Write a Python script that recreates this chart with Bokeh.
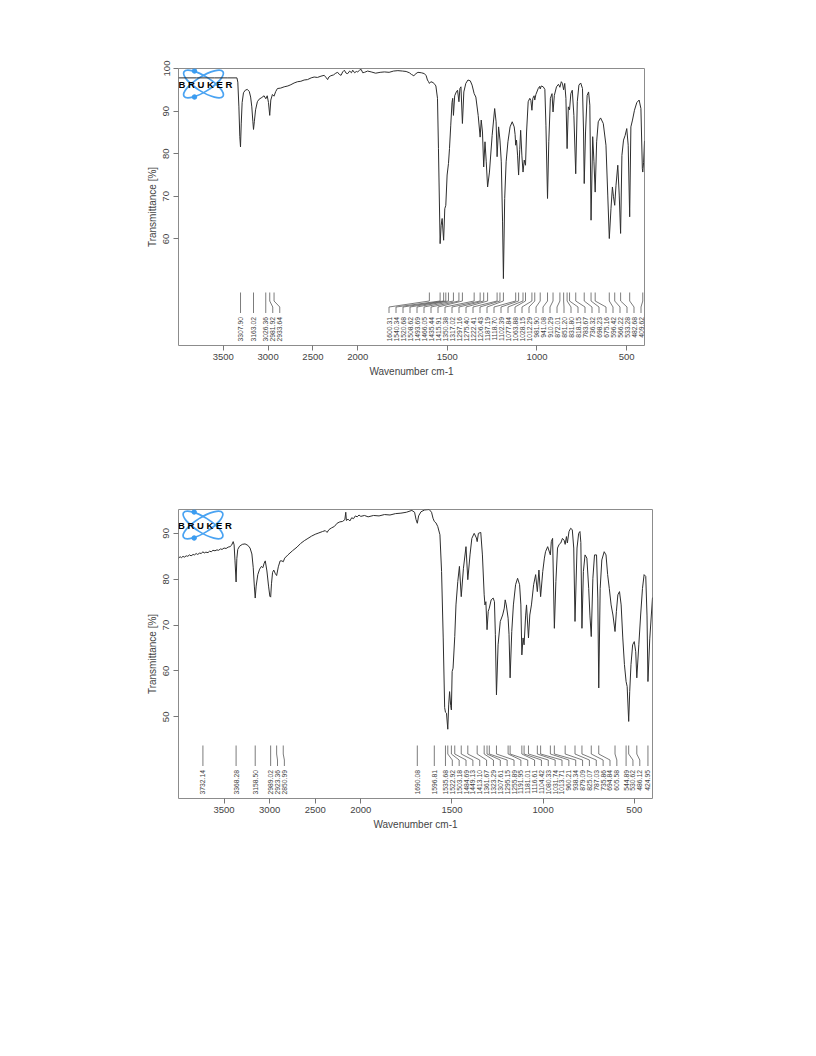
import math
from bokeh.plotting import figure
from bokeh.models import Range1d, FixedTicker
from bokeh.layouts import column
from bokeh.embed import file_html
from bokeh.resources import INLINE
from bokeh.core.properties import value

# ---------------- data ----------------
x_ticks = [3500, 3000, 2500, 2000, 1500, 1000, 500]

spectrum1 = [
    (4000, 97.8), (3800, 97.8), (3600, 97.8), (3450, 97.8), (3348, 97.8), (3338, 96.8), (3326, 91.0),
    (3316, 84.0), (3308, 81.6), (3300, 87.0), (3290, 92.0), (3275, 94.3), (3255, 94.9), (3232, 95.1),
    (3210, 94.6), (3195, 93.3), (3182, 91.0), (3170, 87.5), (3163, 85.7), (3154, 87.5), (3140, 90.3),
    (3120, 92.2), (3100, 92.8), (3070, 93.2), (3045, 93.6), (3026, 92.9), (3010, 93.6), (2996, 92.0),
    (2982, 89.0), (2970, 92.6), (2952, 93.9), (2934, 93.5), (2915, 94.6), (2896, 95.3), (2860, 95.4),
    (2821, 95.7), (2780, 95.9), (2746, 96.2), (2710, 96.6), (2672, 96.9), (2635, 97.0), (2598, 97.3),
    (2560, 97.4), (2520, 97.8), (2486, 98.0), (2450, 97.9), (2410, 98.2), (2374, 98.4), (2350, 97.8),
    (2336, 97.4), (2322, 98.0), (2300, 98.3), (2270, 98.5), (2245, 98.9), (2224, 99.1), (2205, 98.6),
    (2186, 98.4), (2168, 99.2), (2149, 99.6), (2130, 98.9), (2112, 98.8), (2090, 99.4), (2070, 99.0),
    (2056, 99.6), (2035, 99.0), (2015, 99.3), (2000, 99.2), (1990, 99.6), (1981, 99.8), (1972, 99.0),
    (1962, 99.1), (1945, 99.4), (1925, 99.2), (1900, 98.9), (1875, 99.1), (1851, 99.2), (1825, 99.1),
    (1800, 99.4), (1776, 99.5), (1750, 99.4), (1730, 99.3), (1712, 99.0), (1700, 98.6), (1687, 98.3),
    (1675, 98.8), (1664, 99.1), (1645, 99.0), (1628, 98.8), (1618, 98.3), (1611, 97.3), (1605, 96.9),
    (1600, 96.5), (1592, 96.9), (1580, 96.7), (1570, 96.3), (1564, 95.9), (1555, 93.0), (1549.6, 81.2),
    (1540.3, 58.9), (1534.7, 63.2), (1529, 64.8), (1520.7, 59.7), (1514.3, 67.1), (1508.6, 67.9),
    (1501.3, 75.0), (1493.7, 77.7), (1488, 81.2), (1481, 86.7), (1474, 92.0), (1470, 93.0), (1466, 89.0),
    (1459, 93.6), (1450, 94.5), (1443, 94.9), (1435.4, 92.2), (1430, 95.3), (1424, 95.7), (1415.9, 87.1),
    (1408, 94.5), (1397, 96.5), (1385, 97.3), (1372, 97.1), (1362, 96.1), (1350.4, 94.1), (1341, 93.3),
    (1328, 89.0), (1317, 83.9), (1311, 87.9), (1304, 85.1), (1297.2, 76.9), (1290, 82.8), (1283, 78.1),
    (1275.4, 72.2), (1265, 75.7), (1250, 84.3), (1236, 90.6), (1228, 87.5), (1222.4, 79.3), (1214, 86.3),
    (1206.4, 83.2), (1199, 78.1), (1192, 64.0), (1187.2, 50.7), (1180, 69.5), (1172, 78.1), (1162, 82.8),
    (1150, 86.3), (1138, 87.5), (1127, 86.3), (1122, 84.5), (1118.7, 82.0), (1114, 83.2), (1108, 79.5),
    (1102.4, 75.0), (1096, 81.0), (1091, 85.5), (1084, 79.5), (1077.8, 75.7), (1071, 78.5), (1063.9, 77.3),
    (1058, 85.1), (1049, 92.2), (1040, 93.0), (1034, 92.5), (1028.2, 90.2), (1023, 93.0), (1016, 93.6),
    (1012.3, 92.6), (1006, 93.9), (993, 95.3), (985, 95.8), (981.9, 95.2), (976, 95.9), (965, 95.7),
    (956, 95.1), (950, 86.7), (941.1, 69.5), (934, 82.8), (925, 93.0), (916, 94.1), (910.3, 89.8),
    (903, 93.7), (891, 95.7), (880, 96.3), (872, 95.6), (864, 96.9), (858, 96.5), (851.2, 95.0),
    (845, 96.5), (838.5, 93.0), (831.8, 81.2), (825, 91.0), (818.2, 90.3), (811, 94.1), (803, 94.9),
    (794, 89.0), (783.7, 75.3), (775, 92.2), (766, 96.1), (756, 96.6), (746, 95.3), (740, 85.1),
    (736.3, 73.0), (729, 85.1), (720, 93.7), (712, 94.5), (705, 91.4), (698.2, 64.4), (689, 84.0),
    (682, 78.1), (675.2, 71.0), (667, 82.8), (658, 87.5), (645, 88.4), (630, 87.1), (615, 82.0),
    (605, 70.3), (596.4, 60.1), (587, 67.1), (579, 72.2), (573, 69.9), (566.2, 67.9), (559, 72.6),
    (549, 77.3), (541, 70.3), (533.3, 61.3), (526, 79.6), (517, 83.2), (508, 84.3), (499, 85.9),
    (491, 82.0), (482.7, 65.2), (476, 86.3), (467, 87.9), (456, 90.2), (443, 92.0), (430, 92.6),
    (420, 90.6), (412, 76.5), (409.6, 75.7), (405, 78.0), (400, 83.0),
]

peaks1 = ["3307.90", "3163.02", "3026.36", "2981.92", "2933.64", "1600.31", "1540.34", "1520.68",
          "1508.62", "1493.69", "1466.05", "1435.44", "1415.91", "1350.38", "1317.02", "1297.16",
          "1275.40", "1222.41", "1206.43", "1187.19", "1118.70", "1102.39", "1077.84", "1063.88",
          "1028.15", "1012.29", "981.90", "941.08", "910.29", "872.01", "851.20", "831.80", "818.15",
          "783.67", "736.32", "698.23", "675.16", "596.42", "566.22", "533.28", "482.68", "409.62"]

spectrum2 = [
    (4000, 84.6), (3982, 84.9), (3968, 84.7), (3950, 85.0), (3937, 84.8), (3915, 85.1), (3898, 85.0),
    (3880, 85.3), (3862, 85.1), (3840, 85.4), (3825, 85.3), (3806, 85.6), (3790, 85.4), (3768, 85.7),
    (3750, 85.6), (3732, 86.0), (3718, 85.7), (3700, 85.9), (3676, 85.8), (3660, 86.1), (3640, 86.0),
    (3622, 86.3), (3600, 86.2), (3578, 86.4), (3560, 86.3), (3540, 86.6), (3522, 86.5), (3500, 86.8),
    (3478, 86.7), (3455, 87.0), (3435, 87.1), (3418, 87.4), (3400, 88.2), (3390, 87.5), (3380, 84.0),
    (3368, 79.4), (3360, 84.5), (3350, 86.5), (3330, 87.2), (3300, 87.6), (3270, 87.7), (3240, 87.4),
    (3215, 86.8), (3195, 85.5), (3180, 82.5), (3168, 78.5), (3158.5, 75.9), (3148, 78.5), (3130, 81.0),
    (3110, 82.2), (3090, 82.8), (3075, 82.5), (3060, 83.5), (3048, 84.0), (3030, 81.8), (3012, 78.5),
    (2998, 76.3), (2989, 76.1), (2980, 79.0), (2968, 81.5), (2955, 82.0), (2940, 81.3), (2923.4, 80.8),
    (2905, 82.7), (2885, 84.0), (2865, 84.0), (2851, 83.8), (2835, 84.6), (2800, 85.3), (2750, 86.2),
    (2700, 87.0), (2660, 87.8), (2620, 88.4), (2580, 88.9), (2540, 89.4), (2500, 89.8), (2460, 90.1),
    (2420, 90.4), (2390, 90.6), (2370, 90.2), (2350, 90.8), (2320, 91.2), (2290, 91.5), (2260, 92.2),
    (2230, 92.5), (2200, 92.6), (2175, 93.0), (2165, 94.6), (2158, 92.8), (2140, 93.1), (2120, 92.7),
    (2100, 93.4), (2080, 93.2), (2060, 93.8), (2040, 93.6), (2020, 94.0), (2000, 93.7), (1980, 93.9),
    (1960, 93.6), (1930, 93.9), (1900, 93.8), (1870, 94.1), (1840, 94.0), (1810, 94.3), (1780, 94.4),
    (1750, 94.6), (1720, 95.0), (1705, 94.6), (1697, 93.0), (1690, 92.2), (1683, 93.8), (1670, 94.7),
    (1650, 95.1), (1625, 95.2), (1612, 94.6), (1604, 93.3), (1596.8, 92.6), (1588, 92.3), (1578, 91.5),
    (1566, 89.7), (1557, 81.7), (1548, 67.2), (1540, 52.0), (1535.7, 51.0), (1530, 50.8), (1522.9, 47.3),
    (1518, 52.6), (1513, 55.5), (1507, 52.5), (1503.2, 51.5), (1499, 59.9), (1494, 60.6), (1484.7, 67.5),
    (1478, 74.4), (1468, 79.5), (1459, 82.8), (1449.1, 76.2), (1437, 82.4), (1423, 87.1), (1413.1, 79.9),
    (1401, 85.3), (1391, 88.9), (1378, 90.0), (1366, 89.0), (1361.7, 88.2), (1355, 90.0), (1342, 90.2),
    (1333, 85.3), (1323.3, 76.6), (1319, 74.4), (1314, 75.1), (1307.6, 69.0), (1301, 73.0), (1295.2, 73.7),
    (1285, 75.5), (1274, 75.9), (1267, 75.1), (1262, 68.0), (1255.9, 54.8), (1247, 65.7), (1235, 70.8),
    (1222, 72.2), (1213, 73.7), (1208, 75.5), (1202, 74.4), (1192, 71.5), (1187, 68.0), (1181, 58.5),
    (1172, 68.6), (1163, 74.4), (1151, 78.8), (1140, 80.2), (1129, 78.8), (1122, 74.4), (1116.6, 63.5),
    (1110, 67.2), (1104.4, 65.7), (1096, 72.0), (1091, 74.4), (1080.3, 67.2), (1073, 72.2), (1064, 74.4),
    (1052, 78.8), (1041, 81.0), (1031.7, 77.3), (1023, 82.0), (1013.7, 76.2), (1002, 81.7), (993, 84.6),
    (986.7, 86.0), (975, 87.1), (960.2, 85.3), (955, 88.2), (948, 88.9), (938.3, 69.3), (930, 79.5),
    (921, 86.8), (912, 87.6), (903, 87.9), (894, 88.9), (885, 88.5), (879.1, 87.6), (872, 89.3),
    (867, 87.9), (858, 90.4), (849, 91.1), (840, 90.8), (832, 86.8), (825.1, 70.8), (814, 86.8),
    (805, 90.0), (798, 90.4), (793, 88.0), (787, 69.3), (779, 81.7), (770, 85.3), (760, 84.6),
    (750, 78.0), (743, 72.0), (735.9, 67.5), (727, 80.2), (718, 85.3), (707, 85.3), (700, 75.9),
    (694.8, 56.3), (687, 78.0), (678, 84.2), (665, 86.0), (655, 85.3), (646, 81.0), (637, 78.0),
    (627, 74.4), (617, 72.2), (605.6, 68.6), (598, 73.0), (590, 76.6), (581, 77.3), (572, 74.4),
    (563, 67.2), (554, 61.4), (544.9, 57.7), (539, 56.6), (530.6, 49.0), (525, 55.5), (518, 61.4),
    (509, 65.7), (500, 66.4), (492, 64.2), (486.1, 58.5), (475, 65.7), (465, 72.2), (455, 78.0),
    (446, 81.0), (437, 80.6), (430, 72.0), (424.95, 57.7), (415, 67.0), (400, 76.0),
]

peaks2 = ["3732.14", "3368.28", "3158.50", "2989.02", "2923.36", "2850.99", "1690.08", "1596.81",
          "1535.68", "1522.92", "1503.18", "1484.69", "1449.13", "1413.10", "1361.67", "1323.29",
          "1307.61", "1295.15", "1255.89", "1191.95", "1181.01", "1116.61", "1104.42", "1080.33",
          "1031.74", "1013.71", "960.21", "938.34", "879.09", "825.07", "787.03", "735.86", "694.84",
          "605.58", "544.89", "530.62", "486.12", "424.95"]

y_ticks1 = [60, 70, 80, 90, 100]
y_ticks2 = [50, 60, 70, 80, 90]

FONT = "Liberation Sans"


def to_u(x):
    # OPUS style axis: region above 2000 cm-1 compressed by a factor 2
    return x if x <= 2000 else 2000 + (x - 2000) / 2.0


def make_chart(points, peaks, ybot, ytop, yticks, fl, fw, ft, fh, br, bb):
    p = figure(width=fl + fw + br, height=ft + fh + bb,
               x_range=Range1d(3000, 400), y_range=Range1d(ybot, ytop),
               output_backend="svg", toolbar_location=None,
               min_border_left=fl, min_border_right=br,
               min_border_top=ft, min_border_bottom=bb)
    p.background_fill_color = "white"
    p.border_fill_color = "white"
    p.outline_line_color = "#8c8c8c"
    p.outline_line_width = 1
    p.grid.visible = False

    tick_u = [int(to_u(v)) for v in x_ticks]
    p.xaxis.ticker = FixedTicker(ticks=tick_u)
    p.xaxis.major_label_overrides = {int(to_u(v)): str(v) for v in x_ticks}
    p.yaxis.ticker = FixedTicker(ticks=yticks)
    for ax in (p.xaxis, p.yaxis):
        ax.axis_line_color = None
        ax.major_tick_line_color = "#777777"
        ax.major_tick_out = 5
        ax.major_tick_in = 0
        ax.minor_tick_line_color = None
        ax.major_label_text_font = FONT
        ax.major_label_text_font_size = "9.5px"
        ax.major_label_text_color = "#444444"
        ax.axis_label_text_font = FONT
        ax.axis_label_text_font_size = "10px"
        ax.axis_label_text_font_style = "normal"
        ax.axis_label_text_color = "#444444"
    p.xaxis.axis_label = "Wavenumber cm-1"
    p.yaxis.axis_label = "Transmittance [%]"
    p.xaxis.major_label_standoff = 3
    p.xaxis.axis_label_standoff = 3
    p.yaxis.major_label_orientation = "vertical"
    p.yaxis.major_label_standoff = 4
    p.yaxis.axis_label_standoff = 3

    scale = fw / 2600.0

    def u_at(px):
        return 3000 - px / scale

    def y_up(px):
        return ybot + px * (ytop - ybot) / fh

    def y_down(px):
        return ytop - px * (ytop - ybot) / fh

    # logo
    lx, ly = 25, 15.5
    for ang in (0.56, -0.56):
        p.ellipse(x=[u_at(lx)], y=[y_down(ly)], width=46, height=15, angle=ang,
                  width_units="screen", height_units="screen",
                  fill_color=None, line_color="#4aa3f2", line_width=1.7)
    p.scatter(x=[u_at(lx - 9), u_at(lx - 9)], y=[y_down(ly - 13), y_down(ly + 13)],
              size=4.5, color="#3b9cf0")
    p.text(x=[u_at(lx + 2)], y=[y_down(ly + 0.5)], text=["B R U K E R"],
           text_align="center", text_baseline="middle", text_font=value(FONT),
           text_font_style="bold", text_font_size="9.5px", text_color="black")

    # spectrum
    p.line([to_u(a) for a, b in points], [b for a, b in points],
           line_color="#2e2e2e", line_width=1)

    # peak annotations
    pk = [float(s) for s in peaks]
    ppx = [(3000 - to_u(v)) * scale for v in pk]
    d = 7.0
    pos = list(ppx)
    for i in range(1, len(pos)):
        pos[i] = max(ppx[i], pos[i - 1] + d)
    pos[-1] = min(pos[-1], fw - 3.5)
    for i in range(len(pos) - 2, -1, -1):
        pos[i] = min(pos[i], pos[i + 1] - d)
    xs, ys = [], []
    for v, q in zip(pk, pos):
        xs.append([to_u(v), to_u(v), u_at(q), u_at(q)])
        ys.append([y_up(53), y_up(44.5), y_up(38.5), y_up(32.5)])
    p.multi_line(xs, ys, line_color="#5a5a5a", line_width=0.8)
    p.text(x=[u_at(q) for q in pos], y=[y_up(28.5)] * len(pos), text=peaks,
           angle=math.pi / 2, text_align="right", text_baseline="middle",
           text_font=value(FONT), text_font_size="6.8px", text_color="#444444")
    return p


p1 = make_chart(spectrum1, peaks1, 35.0, 100.0, y_ticks1, 178, 466, 68, 277, 20, 40)
p2 = make_chart(spectrum2, peaks2, 32.2, 95.2, y_ticks2, 172, 484, 124, 289, 16, 40)

layout = column(p1, p2)
open("out.html", "w").write(file_html(layout, INLINE))
